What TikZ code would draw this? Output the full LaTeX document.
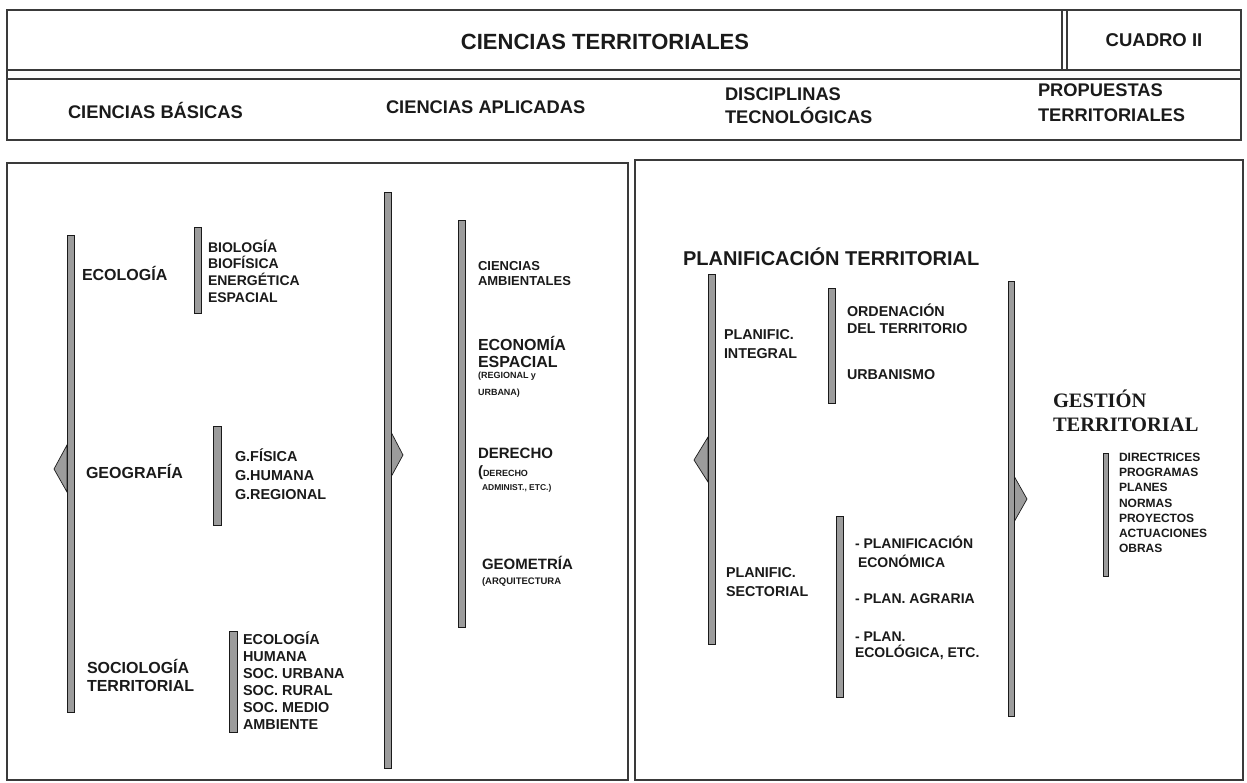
\documentclass[tikz,border=0pt]{standalone}
\usepackage{fontspec}
\setmainfont{Liberation Sans}
\newfontfamily\gestfont{Liberation Serif}
\definecolor{barfill}{HTML}{9C9C9C}
\definecolor{ink}{HTML}{1A1A1A}
\definecolor{frame}{HTML}{3A3A3A}
\newcommand{\fs}[2]{\fontsize{#1}{#2}\selectfont\bfseries}
\tikzset{
  bar/.style={fill=barfill, draw=ink, line width=0.7pt},
  tip/.style={fill=barfill, draw=ink, line width=0.7pt, line join=miter},
  frm/.style={draw=frame, line width=1.1pt},
  lbl/.style={inner sep=0pt, outer sep=0pt, anchor=west, align=left, text=ink},
}
\begin{document}
\begin{tikzpicture}[x=1pt,y=-1pt]
\useasboundingbox (0,0) rectangle (1247,782);
% header
\draw[frm] (7,10) rectangle (1241,140);
\draw[frm] (7,70) -- (1241,70);
\draw[frm] (7,79) -- (1241,79);
\draw[frm] (1062,10) -- (1062,70);
\draw[frm] (1067,10) -- (1067,70);
\node[lbl, anchor=center, font=\fs{22}{26}] (title) at (605,42) {CIENCIAS TERRITORIALES};
\node[lbl, anchor=center, font=\fs{18.5}{22}] (cuadro) at (1154,40) {CUADRO II};
\node[lbl, font=\fs{18.3}{23}] (h1) at (68,110) {CIENCIAS BÁSICAS};
\node[lbl, font=\fs{18.3}{23}] (h2) at (386,107) {CIENCIAS APLICADAS};
\node[lbl, font=\fs{18.3}{23}] (h3) at (725,105.5) {DISCIPLINAS\\TECNOLÓGICAS};
\node[lbl, font=\fs{18.3}{25}] (h4) at (1038,102.5) {PROPUESTAS\\TERRITORIALES};
% panels
\draw[frm] (7,163) rectangle (628,780);
\draw[frm] (635,160) rectangle (1243,780);
% left panel bars
\draw[tip] (67,445) -- (54,469) -- (67,492) -- cycle;
\draw[bar] (67,235) rectangle (74,712);
\draw[bar] (194,227) rectangle (201,313);
\draw[bar] (213,426) rectangle (221,525);
\draw[bar] (229,631) rectangle (237,732);
\draw[tip] (391,432) -- (403,455) -- (391,477) -- cycle;
\draw[bar] (384,192) rectangle (391,768);
\draw[bar] (458,220) rectangle (465,627);
% left panel texts
\node[lbl, font=\fs{16}{19}] (ecol) at (82,273) {ECOLOGÍA};
\node[lbl, font=\fs{14}{16.7}] (ecolsub) at (208,271) {BIOLOGÍA\\BIOFÍSICA\\ENERGÉTICA\\ESPACIAL};
\node[lbl, font=\fs{16}{19}] (geog) at (86,471) {GEOGRAFÍA};
\node[lbl, font=\fs{14.4}{19}] (geogsub) at (235,474) {G.FÍSICA\\G.HUMANA\\G.REGIONAL};
\node[lbl, font=\fs{16}{18}] (soc) at (87,675) {SOCIOLOGÍA\\TERRITORIAL};
\node[lbl, font=\fs{14.4}{17}] (socsub) at (243,680.5) {ECOLOGÍA\\HUMANA\\SOC. URBANA\\SOC. RURAL\\SOC. MEDIO\\AMBIENTE};
\node[lbl, font=\fs{13}{15}] (amb) at (478,274) {CIENCIAS\\AMBIENTALES};
\node[lbl, font=\fs{16}{16.5}] (econ) at (478,352) {ECONOMÍA\\ESPACIAL};
\node[lbl, font=\fs{9}{17}] (econsub) at (478,385) {(REGIONAL y\\URBANA)};
\node[lbl, font=\fs{15}{18}] (der) at (478,453) {DERECHO};
\node[lbl, font=\fs{9}{12}] (dersub1) at (478,473) {{\fs{15}{18}(}DERECHO};
\node[lbl, font=\fs{8.5}{12}] (dersub2) at (482,488) {ADMINIST., ETC.)};
\node[lbl, font=\fs{15}{18}] (geom) at (482,563) {GEOMETRÍA};
\node[lbl, font=\fs{9.5}{12}] (geomsub) at (482,582) {(ARQUITECTURA};
% right panel bars
\draw[tip] (708,437) -- (694,460) -- (708,482) -- cycle;
\draw[bar] (708,274) rectangle (715,644);
\draw[bar] (828,288) rectangle (835,403);
\draw[bar] (836,516) rectangle (843,697);
\draw[tip] (1014,476) -- (1027,499) -- (1014,522) -- cycle;
\draw[bar] (1008,281) rectangle (1014,716);
\draw[bar] (1103,453) rectangle (1108,576);
% right panel texts
\node[lbl, font=\fs{20}{24}] (plan) at (683,257) {PLANIFICACIÓN TERRITORIAL};
\node[lbl, font=\fs{14.3}{19.3}] (pint) at (724,344) {PLANIFIC.\\INTEGRAL};
\node[lbl, font=\fs{14.3}{16.7}] (orden) at (847,319) {ORDENACIÓN\\DEL TERRITORIO};
\node[lbl, font=\fs{14.3}{17}] (urb) at (847,375) {URBANISMO};
\node[lbl, font=\fs{14.3}{19}] (psec) at (726,582) {PLANIFIC.\\SECTORIAL};
\node[lbl, font=\fs{14}{19}] (pecon) at (855,552) {- PLANIFICACIÓN\\\hspace*{3pt}ECONÓMICA};
\node[lbl, font=\fs{14}{17}] (pagr) at (855,599) {- PLAN. AGRARIA};
\node[lbl, font=\fs{14}{16}] (peco) at (855,646) {- PLAN.\\ECOLÓGICA, ETC.};
\node[lbl, font=\gestfont\fontsize{20.5}{24}\selectfont\bfseries] (gest) at (1053,411) {GESTIÓN\\TERRITORIAL};
\node[lbl, font=\fs{12}{15.2}] (gestsub) at (1119,503) {DIRECTRICES\\PROGRAMAS\\PLANES\\NORMAS\\PROYECTOS\\ACTUACIONES\\OBRAS};
\end{tikzpicture}
\end{document}
